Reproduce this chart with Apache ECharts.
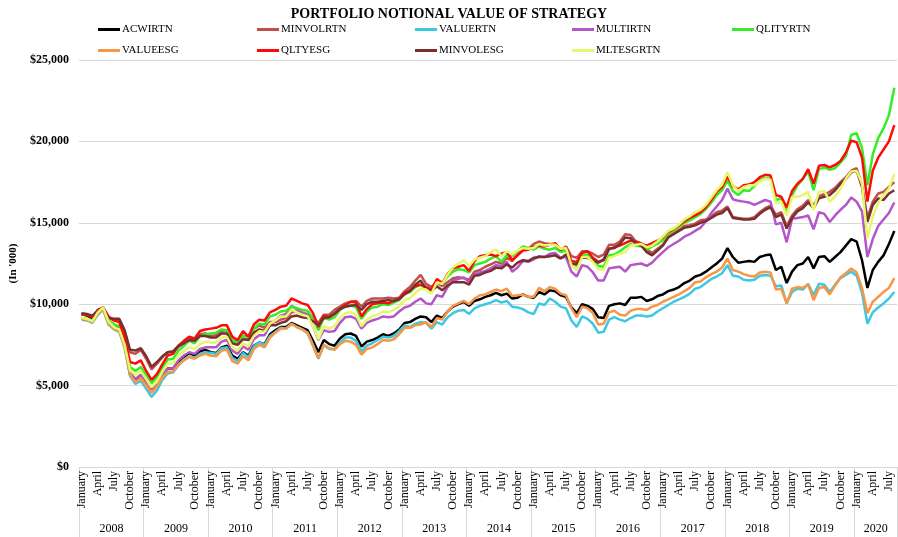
<!DOCTYPE html>
<html>
<head>
<meta charset="utf-8">
<script src="https://cdn.jsdelivr.net/npm/echarts/dist/echarts.min.js"></script>
<style>
  html, body { margin: 0; padding: 0; background: #fff; }
  #myChart { width: 898px; height: 537px; }
</style>
</head>
<body>
<div id="myChart"></div>
<script>
// 年份和月份
var years = ['2008', '2009', '2010', '2011', '2012', '2013', '2014', '2015', '2016', '2017', '2018', '2019', '2020']
var monthNames = ['January', 'February', 'March', 'April', 'May', 'June', 'July', 'August', 'September', 'October', 'November', 'December']
var yTicks = [0, 5000, 10000, 15000, 20000, 25000]

// 各策略每月净值 (2008-01 ~ 2020-08)
var acwirtn = [
  9400, 9300, 9150, 9600, 9750, 8950, 8750, 8500, 7500, 5700, 5350, 5650,
  5250, 4800, 5150, 5650, 6050, 6050, 6500, 6750, 7000, 6850, 7100, 7200,
  7050, 7000, 7350, 7450, 6850, 6650, 7050, 6850, 7450, 7650, 7550, 8150,
  8400, 8600, 8600, 8850, 8700, 8550, 8400, 7750, 7050, 7800, 7550, 7450,
  7900, 8150, 8200, 8050, 7400, 7700, 7800, 7950, 8150, 8050, 8200, 8450,
  8850, 8900, 9100, 9250, 9200, 8900, 9300, 9150, 9550, 9850, 10000, 10150,
  9900, 10200, 10300, 10450, 10550, 10700, 10550, 10650, 10350, 10400, 10600, 10450,
  10400, 10750, 10600, 10850, 10800, 10550, 10450, 9800, 9450, 10000, 9900, 9700,
  9200, 9150, 9900, 10000, 10050, 9950, 10400, 10400, 10450, 10200, 10300, 10500,
  10600, 10800, 10900, 11050, 11300, 11450, 11700, 11800, 12000, 12250, 12500, 12800,
  13450, 12900, 12550, 12600, 12650, 12600, 12900, 13000, 13050, 12100, 12300, 11300,
  12000, 12400, 12500, 12900, 12200, 12900, 12950, 12600, 12900, 13200, 13600, 14000,
  13850, 12700, 11000, 12100, 12600, 13000, 13700, 14500
]
var minvolrtn = [
  9400, 9350, 9250, 9600, 9750, 9200, 9050, 9050, 8350, 7050, 6950, 7200,
  6650, 6000, 6350, 6750, 7050, 7100, 7450, 7700, 7900, 7850, 8150, 8200,
  8050, 8100, 8350, 8400, 7800, 7700, 8050, 8050, 8500, 8700, 8550, 8900,
  8900, 9050, 9150, 9500, 9550, 9450, 9400, 9150, 8850, 9350, 9350, 9650,
  9850, 10050, 10150, 10200, 9850, 10200, 10350, 10350, 10350, 10400, 10350, 10400,
  10800, 11050, 11450, 11800, 11250, 11050, 11350, 11100, 11350, 11600, 11650, 11600,
  11500, 12000, 12100, 12300, 12450, 12600, 12500, 12850, 12650, 13050, 13350, 13400,
  13700, 13850, 13750, 13700, 13650, 13300, 13550, 12950, 12850, 13250, 13250, 13100,
  12900, 13050, 13650, 13650, 13850, 14300, 14250, 13850, 13750, 13350, 13150, 13400,
  13650, 14150, 14350, 14550, 14800, 14850, 14950, 15150, 15200, 15400, 15650, 15750,
  16000, 15350, 15300, 15250, 15250, 15350, 15650, 15900, 16050, 15500, 15650, 14800,
  15450, 15850, 16050, 16400, 16050, 16650, 16750, 16900, 17150, 17500, 17800, 18200,
  18350, 17300, 15300, 16300, 16800, 16900, 17200, 17500
]
var valuertn = [
  9050, 9000, 8850, 9350, 9650, 8750, 8450, 8300, 7300, 5600, 5100, 5300,
  4800, 4300, 4700, 5350, 5750, 5800, 6250, 6600, 6800, 6700, 6950, 7050,
  7000, 6950, 7300, 7350, 6700, 6500, 7000, 6750, 7400, 7650, 7500, 8050,
  8300, 8550, 8500, 8800, 8600, 8450, 8200, 7450, 6650, 7500, 7250, 7250,
  7650, 7950, 7950, 7750, 7100, 7450, 7600, 7800, 8000, 7950, 8050, 8350,
  8700, 8600, 8800, 8900, 8850, 8500, 8900, 8750, 9200, 9450, 9600, 9650,
  9400, 9750, 9900, 10000, 10100, 10250, 10100, 10200, 9850, 9800, 9700, 9500,
  9400, 10050, 9950, 10350, 10150, 9850, 9750, 9000, 8600, 9250, 9100, 8800,
  8250, 8300, 9050, 9200, 9050, 8950, 9150, 9300, 9300, 9250, 9300, 9550,
  9750, 9950, 10150, 10300, 10450, 10650, 10950, 11050, 11300, 11550, 11700, 11900,
  12400, 11750, 11700, 11500, 11450, 11500, 11750, 11800, 11750, 11100, 11150, 10050,
  10750, 10950, 10900, 11250, 10550, 11250, 11200, 10750, 11200, 11600, 11800, 12000,
  11750, 10700, 8800, 9500, 9800, 10050, 10350, 10750
]
var multirtn = [
  9100, 9050, 8950, 9500, 9750, 8900, 8600, 8400, 7500, 5800, 5400, 5650,
  5200, 4750, 5100, 5650, 6050, 6050, 6550, 6850, 7050, 6950, 7250, 7350,
  7350, 7350, 7700, 7800, 7150, 6950, 7400, 7200, 7850, 8100, 8100, 8700,
  9000, 9300, 9400, 9900, 9700, 9500, 9350, 8650, 7800, 8400, 8300, 8350,
  8850, 9200, 9250, 9100, 8500, 8850, 9000, 9100, 9250, 9200, 9250, 9550,
  9800, 9900, 10150, 10350, 10050, 10000, 10550, 10450, 11050, 11450, 11550, 11650,
  11350, 11850, 11950, 12050, 12200, 12400, 12350, 12600, 12000, 12250, 12650, 12600,
  12750, 12950, 12900, 13100, 13150, 12850, 12900, 12000, 11700, 12400, 12300, 11950,
  11450, 11450, 12200, 12250, 12300, 12000, 12400, 12450, 12500, 12350, 12550, 12900,
  13200, 13500, 13700, 13900, 14150, 14300, 14500, 14700, 15100, 15600, 16000, 16400,
  17100, 16450, 16350, 16300, 16250, 16100, 16250, 16400, 16300, 14900, 15000, 13800,
  15250, 15300, 15350, 15450, 14600, 15650, 15550, 15050, 15450, 15800, 16100, 16550,
  16300, 15700, 12900, 14000, 14800, 15200, 15600, 16250
]
var qlityrtn = [
  9150, 9100, 9000, 9550, 9800, 9050, 8750, 8650, 7700, 6150, 5900, 6150,
  5650, 5150, 5500, 6100, 6600, 6650, 7150, 7450, 7750, 7600, 8050, 8150,
  8200, 8250, 8450, 8400, 7800, 7600, 8100, 7800, 8500, 8800, 8750, 9250,
  9350, 9550, 9600, 9850, 9750, 9650, 9600, 9150, 8400, 9150, 9050, 9200,
  9650, 9850, 9950, 9800, 9100, 9550, 9800, 9850, 10000, 9950, 10100, 10250,
  10650, 10750, 11050, 11200, 10950, 10800, 11400, 11250, 11700, 12000, 12150, 12100,
  11950, 12400, 12500, 12600, 12800, 12950, 12600, 13000, 12950, 13250, 13550, 13450,
  13350, 13550, 13400, 13350, 13450, 13200, 13300, 12550, 12350, 13000, 13050, 12750,
  12350, 12300, 13000, 13050, 13250, 13500, 13700, 13600, 13550, 13350, 13550, 13700,
  13950, 14350, 14500, 14750, 15000, 15150, 15350, 15550, 15850, 16250, 16700, 17000,
  17600, 16950, 16700, 17000, 16950, 17250, 17650, 17750, 17700, 16400, 16500, 15650,
  16700, 17300, 17700, 18150, 17000, 18300, 18400, 18250, 18350, 18700, 19100, 20400,
  20500, 19600, 17300, 19200, 20200, 20800, 21600, 23300
]
var valueesg = [
  9100, 9050, 8900, 9400, 9700, 8800, 8500, 8350, 7400, 5700, 5200, 5450,
  5000, 4550, 4950, 5500, 5850, 5850, 6250, 6550, 6750, 6650, 6850, 6950,
  6850, 6800, 7150, 7200, 6500, 6350, 6800, 6550, 7250, 7500, 7350, 7950,
  8250, 8500, 8500, 8800, 8600, 8450, 8250, 7500, 6700, 7500, 7300, 7200,
  7550, 7750, 7700, 7500, 6900, 7250, 7350, 7550, 7800, 7750, 7850, 8150,
  8550, 8550, 8700, 8750, 8900, 8600, 9150, 9050, 9550, 9900, 10050, 10200,
  10000, 10350, 10550, 10600, 10750, 10900, 10800, 10950, 10500, 10550, 10600, 10450,
  10450, 11000, 10800, 11050, 10950, 10650, 10550, 9750, 9200, 9850, 9750, 9450,
  8750, 8800, 9500, 9600, 9350, 9300, 9600, 9700, 9700, 9650, 9850, 9950,
  10150, 10300, 10450, 10600, 10800, 11000, 11350, 11400, 11650, 11850, 12000, 12250,
  12800, 12100, 12000, 11850, 11750, 11700, 11950, 12000, 11950, 10900, 10950, 10050,
  10950, 11050, 11000, 11200, 10250, 11000, 11050, 10600, 11150, 11650, 11900, 12200,
  11950, 11000, 9450, 10150, 10450, 10750, 11000, 11600
]
var qltyesg = [
  9400, 9350, 9200, 9650, 9800, 9250, 9000, 8900, 7900, 6450, 6350, 6550,
  5900, 5350, 5700, 6300, 6850, 6950, 7450, 7750, 8000, 7900, 8350, 8450,
  8500, 8550, 8700, 8700, 8000, 7800, 8350, 8000, 8750, 9050, 9000, 9500,
  9650, 9850, 9900, 10350, 10200, 10050, 9950, 9450, 8600, 9300, 9200, 9400,
  9700, 9950, 10150, 10100, 9250, 9700, 10000, 10050, 10100, 10050, 10200, 10350,
  10700, 10850, 11100, 11200, 11050, 10900, 11550, 11300, 11850, 12200, 12300, 12400,
  12050, 12650, 12950, 13000, 13050, 12950, 13100, 13200, 12700, 13000, 13300, 13350,
  13500, 13600, 13550, 13650, 13750, 13350, 13500, 12650, 12600, 13150, 13250, 12850,
  12600, 12700, 13400, 13500, 13600, 13750, 13900, 13850, 13700, 13600, 13750, 13900,
  14100, 14450, 14600, 14850, 15100, 15300, 15450, 15650, 15950, 16400, 16900, 17200,
  17850, 17250, 17050, 17300, 17350, 17500, 17800, 17950, 17900, 16700, 16600, 15950,
  16950, 17400, 17700, 18300, 17400, 18500, 18550, 18400, 18550, 18800, 19300, 20050,
  19950, 19000, 16300, 18200, 19000, 19500, 20000, 21000
]
var minvolesg = [
  9450, 9400, 9300, 9600, 9750, 9150, 9100, 9100, 8400, 7200, 7150, 7300,
  6800, 6150, 6450, 6800, 7050, 7100, 7400, 7600, 7800, 7750, 8050, 8050,
  7950, 7950, 8200, 8200, 7600, 7500, 7850, 7800, 8250, 8450, 8350, 8700,
  8700, 8850, 8950, 9250, 9300, 9200, 9150, 8950, 8700, 9150, 9200, 9450,
  9700, 9850, 9900, 9950, 9650, 10000, 10150, 10150, 10200, 10250, 10200, 10300,
  10600, 10800, 11200, 11450, 10950, 10800, 11100, 10850, 11150, 11350, 11350, 11350,
  11200, 11750, 11800, 11950, 12050, 12250, 12200, 12450, 12250, 12550, 12700, 12650,
  12850, 12900, 12900, 12950, 13000, 12800, 13050, 12500, 12450, 12850, 12850, 12700,
  12550, 12750, 13400, 13450, 13700, 14100, 14050, 13700, 13600, 13200, 13000, 13300,
  13600, 14100, 14300, 14500, 14700, 14750, 14850, 15000, 15100, 15300, 15500, 15600,
  15900, 15300, 15250, 15200, 15200, 15250, 15550, 15800, 15950, 15350, 15500, 14650,
  15300, 15700, 15900, 16250, 15900, 16500, 16600, 16700, 17000, 17400, 17700, 18100,
  18200, 17200, 15050, 16100, 16500, 16400, 16800, 17000
]
var mltesgrtn = [
  9150, 9100, 8950, 9500, 9800, 8950, 8600, 8450, 7500, 5950, 5650, 5900,
  5400, 4900, 5250, 5850, 6350, 6350, 6850, 7100, 7350, 7250, 7550, 7700,
  7650, 7650, 7950, 8000, 7350, 7150, 7600, 7400, 8050, 8350, 8300, 8800,
  9000, 9250, 9250, 9650, 9500, 9350, 9250, 8650, 7850, 8650, 8500, 8650,
  9150, 9450, 9500, 9350, 8650, 9050, 9250, 9350, 9550, 9500, 9650, 9850,
  10250, 10350, 10700, 10950, 10900, 10650, 11350, 11250, 11800, 12250, 12500, 12700,
  12350, 12750, 12850, 12950, 13200, 13350, 12950, 13250, 13050, 13300, 13450, 13400,
  13450, 13700, 13600, 13650, 13650, 13400, 13450, 12400, 12100, 12900, 12900, 12600,
  12150, 12100, 12850, 12950, 13100, 13200, 13600, 13650, 13700, 13500, 13600, 13850,
  14150, 14500, 14650, 14900, 15200, 15400, 15650, 15800, 16100, 16550, 17000, 17350,
  18100, 17300, 16950, 17200, 17300, 17300, 17550, 17700, 17650, 16200, 16300, 15450,
  16600, 16600, 16700, 16900, 15800, 16900, 16950, 16300, 16600, 17100, 17700, 18150,
  18200, 17400, 14050, 15400, 16200, 16700, 17100, 18000
]

var seriesNames = ['ACWIRTN', 'MINVOLRTN', 'VALUERTN', 'MULTIRTN', 'QLITYRTN', 'VALUEESG', 'QLTYESG', 'MINVOLESG', 'MLTESGRTN']
var seriesData = [acwirtn, minvolrtn, valuertn, multirtn, qlityrtn, valueesg, qltyesg, minvolesg, mltesgrtn]
var seriesColors = ['#000000', '#C0504D', '#3CC8E0', '#B455C8', '#33EE22', '#F79646', '#FF0A0A', '#7A2E2E', '#E6F76A']

// 类目: 每个月一个
var categories = []
var yearOfIndex = []
years.forEach(function (y) {
  var n = y === '2020' ? 8 : 12
  for (var m = 0; m < n; m++) {
    categories.push(monthNames[m])
    yearOfIndex.push(y)
  }
})

var FONT = 'Liberation Serif'
var GRID_LINE = '#D9D9D9'

// 图例位置 (两行)
var legendX = [98, 257, 415, 572, 732, 98, 257, 415, 572]
var legendY = [24, 24, 24, 24, 24, 45, 45, 45, 45]

var legends = seriesNames.map(function (name, i) {
  return {
    data: [name],
    left: legendX[i],
    top: legendY[i],
    padding: 0,
    icon: 'rect',
    itemWidth: 22,
    itemHeight: 3,
    itemGap: 0,
    textStyle: { fontFamily: FONT, fontSize: 11, color: '#000', padding: [0, 0, 0, -3] },
  }
})

var option = {
  animation: false,
  backgroundColor: '#fff',
  title: {
    text: 'PORTFOLIO NOTIONAL VALUE OF STRATEGY',
    left: 'center',
    top: 2,
    textStyle: { fontFamily: FONT, fontSize: 14, fontWeight: 'bold', color: '#000' },
  },
  legend: legends,
  grid: { left: 72, right: 1, top: 60, bottom: 70 },
  xAxis: [
    {
      type: 'category',
      data: categories,
      boundaryGap: true,
      axisLine: { lineStyle: { color: GRID_LINE } },
      axisTick: { show: false },
      axisLabel: {
        interval: 2,
        rotate: 90,
        margin: 4,
        fontFamily: FONT,
        fontSize: 12,
        color: '#000',
      },
    },
    {
      type: 'category',
      data: categories,
      boundaryGap: true,
      position: 'bottom',
      axisLine: { show: false },
      axisTick: {
        show: true,
        length: 70,
        interval: function (i) { return i % 12 === 0 },
        lineStyle: { color: GRID_LINE },
      },
      axisLabel: {
        interval: function (i) { return (i % 12 === 6 && i < 144) || i === 148 },
        formatter: function (v, i) { return yearOfIndex[i] },
        margin: 56,
        padding: [0, 5, 0, 0],
        fontFamily: FONT,
        fontSize: 12,
        color: '#000',
      },
    },
  ],
  yAxis: {
    type: 'value',
    min: yTicks[0],
    max: yTicks[yTicks.length - 1],
    interval: 5000,
    name: "(In '000)",
    nameLocation: 'middle',
    nameGap: 54,
    nameRotate: 90,
    nameTextStyle: { fontFamily: FONT, fontSize: 11, fontWeight: 'bold', color: '#000' },
    axisLine: { show: false },
    axisTick: { show: false },
    splitLine: { lineStyle: { color: GRID_LINE, width: 1 } },
    axisLabel: {
      margin: 10,
      fontFamily: FONT,
      fontSize: 12,
      fontWeight: 'bold',
      color: '#000',
      formatter: function (v) { return '$' + v.toLocaleString('en-US') },
    },
  },
  series: seriesNames.map(function (name, i) {
    return {
      name: name,
      type: 'line',
      data: seriesData[i],
      symbol: 'none',
      showSymbol: false,
      color: seriesColors[i],
      lineStyle: { width: 2.5, color: seriesColors[i] },
    }
  }),
}

var myChart = echarts.init(document.getElementById('myChart'))
myChart.setOption(option)
</script>
</body>
</html>
